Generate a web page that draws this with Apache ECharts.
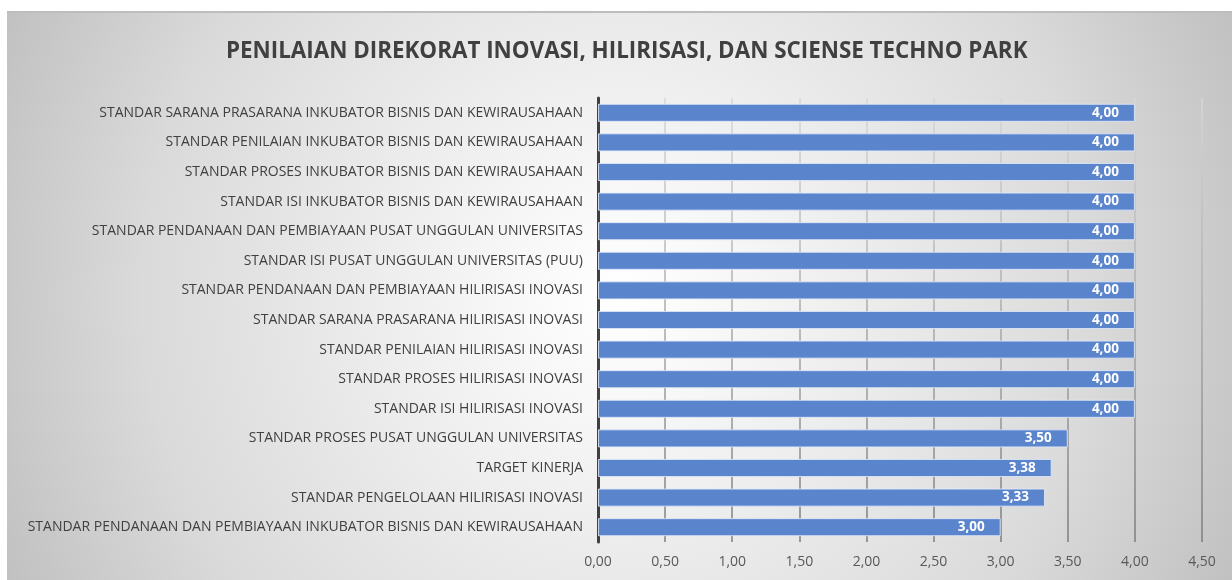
<!DOCTYPE html>
<html>
<head>
<meta charset="utf-8">
<title>Penilaian Direkorat Inovasi, Hilirisasi, dan Sciense Techno Park</title>
<script src="https://cdn.jsdelivr.net/npm/echarts@6/dist/echarts.min.js"></script>
<style>
  html, body { margin: 0; padding: 0; background: #ffffff; }
  #chart { width: 1232px; height: 580px; }
</style>
</head>
<body>
<div id="chart"></div>
<script>
// Standards, listed top to bottom as they appear on the chart
const categories = [
  'STANDAR SARANA PRASARANA INKUBATOR BISNIS DAN KEWIRAUSAHAAN',
  'STANDAR PENILAIAN INKUBATOR BISNIS DAN KEWIRAUSAHAAN',
  'STANDAR PROSES INKUBATOR BISNIS DAN KEWIRAUSAHAAN',
  'STANDAR ISI INKUBATOR BISNIS DAN KEWIRAUSAHAAN',
  'STANDAR PENDANAAN DAN PEMBIAYAAN PUSAT UNGGULAN UNIVERSITAS',
  'STANDAR ISI PUSAT UNGGULAN UNIVERSITAS (PUU)',
  'STANDAR PENDANAAN DAN PEMBIAYAAN HILIRISASI INOVASI',
  'STANDAR SARANA PRASARANA HILIRISASI INOVASI',
  'STANDAR PENILAIAN HILIRISASI INOVASI',
  'STANDAR PROSES HILIRISASI INOVASI',
  'STANDAR ISI HILIRISASI INOVASI',
  'STANDAR PROSES PUSAT UNGGULAN UNIVERSITAS',
  'TARGET KINERJA',
  'STANDAR PENGELOLAAN HILIRISASI INOVASI',
  'STANDAR PENDANAAN DAN PEMBIAYAAN INKUBATOR BISNIS DAN KEWIRAUSAHAAN'
];

// Scores per standard
const scores = [4.00, 4.00, 4.00, 4.00, 4.00, 4.00, 4.00, 4.00, 4.00, 4.00, 4.00, 3.50, 3.38, 3.33, 3.00];

// Value axis range
const axisMin = 0;
const axisMax = 4.5;
const axisStep = 0.5;

const chartTitle = 'PENILAIAN DIREKORAT INOVASI, HILIRISASI, DAN SCIENSE TECHNO PARK';

// Indonesian decimal format: 4,00
const fmt = v => Number(v).toFixed(2).replace('.', ',');

const chart = echarts.init(document.getElementById('chart'), null, { renderer: 'canvas' });

chart.setOption({
  animation: false,
  textStyle: { fontFamily: '"Open Sans", "DejaVu Sans", sans-serif' },
  graphic: [
    {
      type: 'rect',
      z: -10,
      silent: true,
      shape: { x: 7, y: 12, width: 1225, height: 568 },
      style: {
        fill: new echarts.graphic.RadialGradient(0.5, 0.5, 1.2, [
          { offset: 0, color: '#ffffff' },
          { offset: 0.15, color: '#f8f8f8' },
          { offset: 0.7, color: '#dadada' },
          { offset: 1, color: '#c0c0c0' }
        ])
      }
    },
    {
      type: 'rect',
      z: -9,
      silent: true,
      shape: { x: 7, y: 11, width: 1225, height: 2 },
      style: { fill: '#bdbdbd' }
    }
  ],
  title: {
    text: chartTitle,
    left: 221,
    top: 36,
    textStyle: {
      fontSize: 22.4,
      fontWeight: 'bold',
      color: '#404040',
      fontFamily: '"Open Sans", sans-serif'
    }
  },
  grid: {
    left: 598,
    right: 30,
    top: 98,
    bottom: 38,
    containLabel: false
  },
  xAxis: {
    type: 'value',
    min: axisMin,
    max: axisMax,
    interval: axisStep,
    axisLine: { show: false },
    axisTick: { show: false },
    axisLabel: {
      formatter: fmt,
      color: '#595959',
      fontSize: 14,
      margin: 13
    },
    splitLine: {
      show: true,
      lineStyle: {
        width: 1.5,
        color: new echarts.graphic.LinearGradient(0, 0, 0, 1, [
          { offset: 0, color: '#d8d8d8' },
          { offset: 1, color: '#7c7c7c' }
        ])
      }
    }
  },
  yAxis: {
    type: 'category',
    data: categories,
    inverse: true,
    axisLine: { show: true, lineStyle: { color: '#404040', width: 3 } },
    axisTick: { show: false },
    axisLabel: {
      color: '#404040',
      fontSize: 14,
      margin: 15
    }
  },
  series: [
    {
      type: 'bar',
      data: scores,
      barCategoryGap: '39%',
      itemStyle: {
        color: '#5a84cc',
        borderColor: 'rgba(225,233,248,0.85)',
        borderWidth: 1
      },
      label: {
        show: true,
        position: 'insideRight',
        distance: 16,
        formatter: p => fmt(p.value),
        color: '#ffffff',
        fontWeight: 'bold',
        fontSize: 13.5
      }
    }
  ]
});
</script>
</body>
</html>
